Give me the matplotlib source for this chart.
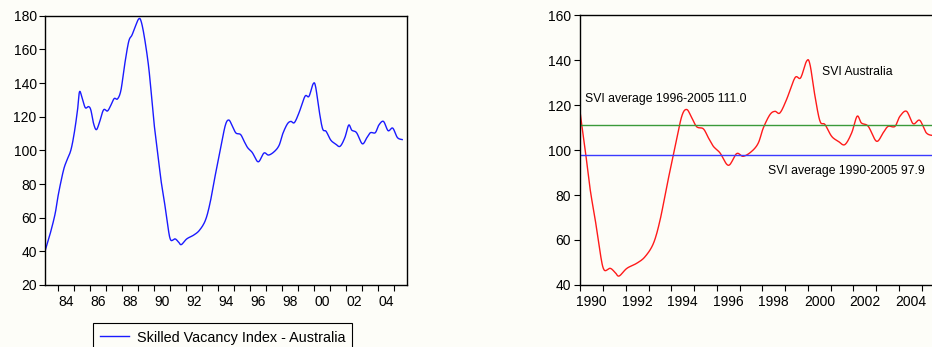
import numpy as np
import matplotlib.pyplot as plt
from matplotlib.ticker import MultipleLocator, FixedLocator

# Skilled Vacancy Index - Australia
years = [1983.21, 1983.52, 1983.83, 1984.04, 1984.35, 1984.56, 1984.81, 1985.02,
         1985.23, 1985.35, 1985.5, 1985.71, 1985.92, 1986.06, 1986.23, 1986.4,
         1986.58, 1986.85, 1987.1, 1987.31, 1987.52, 1987.73, 1987.94, 1988.15,
         1988.42, 1988.63, 1988.83, 1989.04, 1989.19, 1989.4, 1989.67, 1989.9,
         1990.0, 1990.22, 1990.44, 1990.66, 1990.88, 1991.05, 1991.32, 1991.54,
         1991.71, 1992.05, 1992.49, 1992.85, 1993.22, 1993.51, 1993.8, 1994.17,
         1994.46, 1994.68, 1994.9, 1995.12, 1995.41, 1995.63, 1995.85, 1996.14,
         1996.51, 1996.87, 1997.16, 1997.53, 1997.82, 1998.04, 1998.33, 1998.55,
         1998.77, 1999.06, 1999.43, 1999.68, 1999.94, 2000.09, 2000.31, 2000.53,
         2000.75, 2001.04, 2001.33, 2001.62, 2001.92, 2002.16, 2002.35, 2002.65,
         2003.01, 2003.3, 2003.52, 2003.82, 2004.04, 2004.33, 2004.62, 2004.91,
         2005.2, 2005.5]
svi = [40.4, 50.4, 62.3, 74.2, 88.1, 94.0, 100.0, 110.0,
       124.0, 134.7, 131.8, 125.4, 126.0, 124.0, 116.0, 112.3,
       116.0, 124.0, 123.4, 126.8, 130.8, 130.6, 135.7, 149.6,
       164.5, 168.5, 173.4, 178.0, 177.0, 167.5, 149.6, 127.0,
       116.5, 100.0, 82.3, 69.0, 54.0, 46.7, 47.4, 45.5,
       44.0, 47.4, 49.7, 52.6, 58.6, 69.0, 83.8, 101.6,
       115.0, 118.0, 114.3, 110.3, 109.4, 105.4, 101.6, 98.7,
       93.2, 98.4, 97.2, 99.4, 103.1, 109.8, 115.7, 117.2,
       116.5, 122.4, 132.1, 132.1, 139.5, 138.0, 123.9, 112.8,
       111.3, 106.1, 103.9, 102.4, 107.6, 115.0, 112.0, 110.5,
       103.9, 107.6, 110.5, 110.5, 115.0, 117.2, 111.7, 113.2,
       107.6, 106.4]

avg_1996_2005 = 111.0
avg_1990_2005 = 97.9

left_labels = ["84", "86", "88", "90", "92", "94", "96", "98", "00", "02", "04"]
left_years = list(range(1984, 2005, 2))
right_years = list(range(1990, 2005, 2))

plt.rcParams['font.family'] = ['Liberation Sans', 'DejaVu Sans']
bg = '#fdfdf8'


def catmull_rom(x, y, n=12):
    # smooth curve through the read-off points
    x = np.asarray(x, float)
    y = np.asarray(y, float)
    px = np.concatenate([[x[0]], x, [x[-1]]])
    py = np.concatenate([[y[0]], y, [y[-1]]])
    s = np.linspace(0, 1, n, endpoint=False)
    ox, oy = [], []
    for i in range(1, len(px) - 2):
        for p, o in ((px, ox), (py, oy)):
            p0, p1, p2, p3 = p[i - 1], p[i], p[i + 1], p[i + 2]
            o.append(0.5 * (2 * p1 + (-p0 + p2) * s
                            + (2 * p0 - 5 * p1 + 4 * p2 - p3) * s ** 2
                            + (-p0 + 3 * p1 - 3 * p2 + p3) * s ** 3))
    ox.append([x[-1]])
    oy.append([y[-1]])
    return np.concatenate(ox), np.concatenate(oy)


tf, vs = catmull_rom(years, svi)

fig = plt.figure(figsize=(9.32, 3.47), dpi=100, facecolor=bg)

# left panel
ax1 = fig.add_axes([0.0483, 0.1787, 0.3884, 0.776], facecolor=bg)
ln, = ax1.plot(tf, vs, color='#1a1aff', lw=1.0, label='Skilled Vacancy Index - Australia')
ax1.set_xlim(1983.2, 2005.8)
ax1.set_ylim(20, 180)
ax1.xaxis.set_major_locator(FixedLocator([y + 0.5 for y in left_years]))
ax1.set_xticklabels(left_labels)

# right panel
ax2 = fig.add_axes([0.6218, 0.1787, 0.3868, 0.778], facecolor=bg)
m = tf >= 1990
ax2.plot(tf[m], vs[m], color='#ff1a1a', lw=1.0)
ax2.axhline(avg_1996_2005, color='#3a9a3a', lw=1.0)
ax2.axhline(avg_1990_2005, color='#3a3aff', lw=1.0)
ax2.set_xlim(1989.97, 2005.8)
ax2.set_ylim(40, 160)
ax2.xaxis.set_major_locator(FixedLocator([y + 0.5 for y in right_years]))
ax2.set_xticklabels([str(y) for y in right_years])
ax2.text(2000.6, 134.6, 'SVI Australia', fontsize=8.8, va='center')
ax2.text(1990.22, 122.7, 'SVI average 1996-2005 111.0', fontsize=8.8, va='center')
ax2.text(1998.23, 90.8, 'SVI average 1990-2005 97.9', fontsize=8.8, va='center')

for ax in (ax1, ax2):
    ax.yaxis.set_major_locator(MultipleLocator(20))
    ax.xaxis.set_minor_locator(MultipleLocator(1))
    for s in ax.spines.values():
        s.set_linewidth(1.0)
    ax.tick_params(axis='y', direction='out', length=4, width=0.8,
                   labelsize=10, pad=2, right=False)
    ax.tick_params(axis='x', which='major', length=0, labelsize=10, pad=7, top=False)
    ax.tick_params(axis='x', which='minor', direction='out', length=4, width=0.8, top=False)

leg = fig.legend(handles=[ln], loc='upper left', bbox_to_anchor=(0.1, 1 - 323.3 / 347),
                 borderaxespad=0, fancybox=False, framealpha=1, facecolor=bg,
                 edgecolor='black', fontsize=10.4, handlelength=2.0, handletextpad=0.5,
                 borderpad=0.5)
leg.get_frame().set_linewidth(0.8)

fig.savefig('out.png', dpi=100, facecolor=bg)
